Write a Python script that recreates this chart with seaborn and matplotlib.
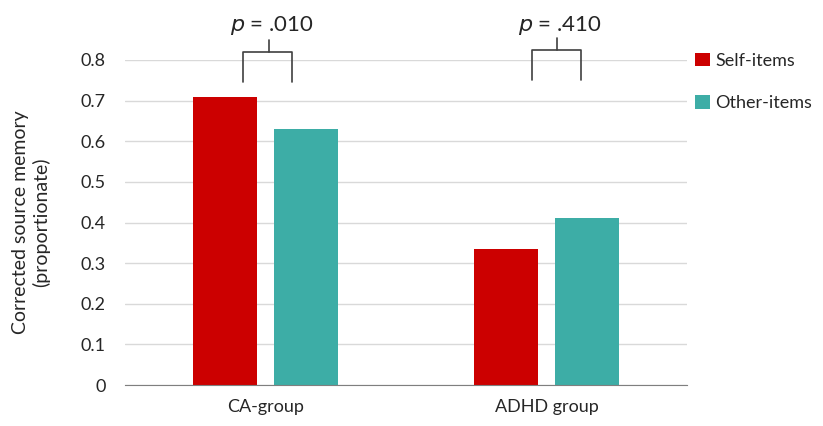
import matplotlib
matplotlib.use("Agg")
import matplotlib.pyplot as plt
import pandas as pd
import seaborn as sns

groups = ["CA-group", "ADHD group"]
item_types = ["Self-items", "Other-items"]
self_items = [0.71, 0.335]
other_items = [0.63, 0.41]
p_labels = [".010", ".410"]

colors = {"Self-items": "#CC0000", "Other-items": "#3DADA6"}

df = pd.DataFrame({
    "group": groups * 2,
    "item": ["Self-items"] * 2 + ["Other-items"] * 2,
    "memory": self_items + other_items,
})

sns.set_style("white")
plt.rcParams["font.family"] = ["Lato", "DejaVu Sans"]

fig = plt.figure(figsize=(8.23, 4.26), dpi=100)
ax = fig.add_axes([125 / 823, 41 / 426, 562 / 823, 325 / 426])

sns.barplot(data=df, x="group", y="memory", hue="item", order=groups,
            hue_order=item_types, palette=colors, width=0.571, gap=0.2,
            saturation=1, linewidth=0, ax=ax, legend=True)

ax.set_ylim(0, 0.8)
ax.set_xlim(-0.5, 1.5)
ax.set_yticks([i / 10 for i in range(9)])
ax.set_yticklabels(["0"] + ["%.1f" % (i / 10) for i in range(1, 9)], fontsize=13)
ax.tick_params(axis="x", labelsize=13, length=0, pad=10)
ax.tick_params(axis="y", length=0, pad=14)
ax.yaxis.grid(True, color="#d9d9d9", linewidth=1)
ax.set_axisbelow(True)
for s in ["top", "right", "left"]:
    ax.spines[s].set_visible(False)
ax.spines["bottom"].set_color("#7f7f7f")
ax.set_xlabel("")
ax.set_ylabel("Corrected source memory\n(proportionate)", fontsize=14, labelpad=22)

# significance brackets
brackets = [(-0.079, 0.096, 0.011, 0.746, 0.82, 0.849),
            (0.95, 1.121, 1.036, 0.751, 0.825, 0.854)]
for (x0, x1, xs, yb, yt, ys), p in zip(brackets, p_labels):
    ax.plot([x0, x0, x1, x1], [yb, yt, yt, yb], color="#404040", lw=1.2, clip_on=False)
    ax.plot([xs, xs], [yt, ys], color="#404040", lw=1.2, clip_on=False)
    ax.text(xs + 0.01, 0.886, r"$p$ = " + p, ha="center", va="center",
            fontsize=16, clip_on=False)

ax.legend(loc="upper left", bbox_to_anchor=(1.002, 1.045), frameon=False,
          fontsize=13, handlelength=0.8, handleheight=0.8, handletextpad=0.3,
          labelspacing=1.45, borderaxespad=0)

fig.savefig("out.png", dpi=100)
